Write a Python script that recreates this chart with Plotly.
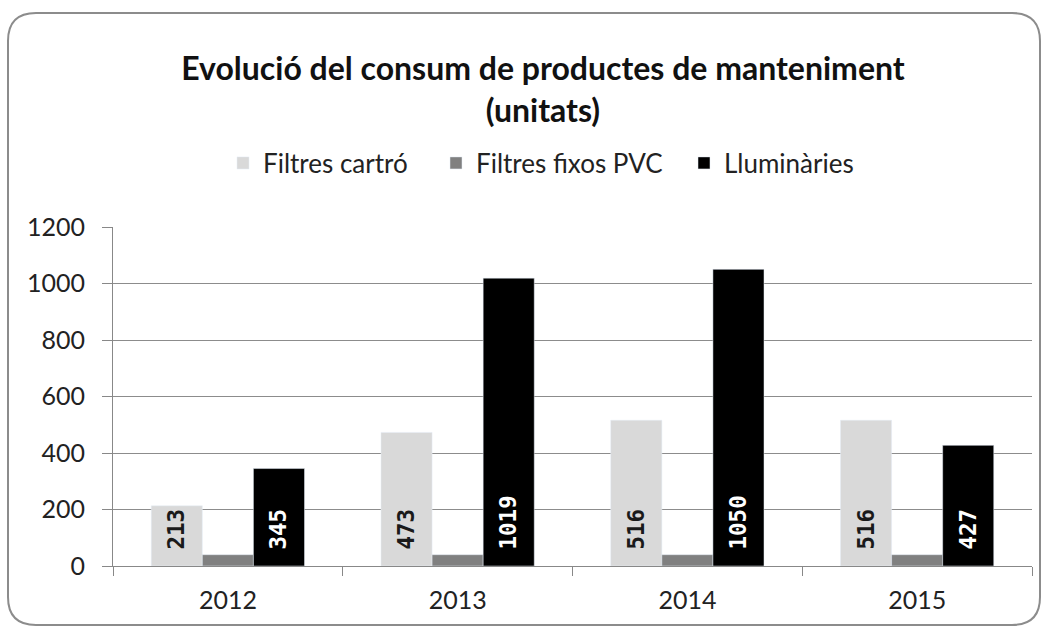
import plotly.graph_objects as go

years = ["2012", "2013", "2014", "2015"]
filtres_cartro = [213, 473, 516, 516]
filtres_pvc = [40, 40, 40, 40]
lluminaries = [345, 1019, 1050, 427]
y_ticks = [0, 200, 400, 600, 800, 1000, 1200]

W, H = 1049, 633
L, R, T, B = 113, 17, 227, 67
pw, ph = W - L - R, H - T - B

def px(x):
    return (x - L) / pw

def py(y):
    return (H - B - y) / ph

FONT = "Lato, Open Sans, sans-serif"
MONO = "DejaVu Sans Mono, monospace"

fig = go.Figure()
fig.add_trace(go.Bar(
    name="Filtres cartró", x=years, y=filtres_cartro, marker_color="#d9d9d9",
    texttemplate="\u00a0%{y}", textposition="inside", insidetextanchor="start", textangle=-90,
    textfont=dict(family=MONO, size=24, color="#1a1a1a", weight="bold"),
    legend="legend", showlegend=True,
))
fig.add_trace(go.Bar(
    name="Filtres fixos PVC", x=years, y=filtres_pvc, marker_color="#808080",
    legend="legend2", showlegend=True,
))
fig.add_trace(go.Bar(
    name="Lluminàries", x=years, y=lluminaries, marker_color="#000000",
    texttemplate="\u00a0%{y}", textposition="inside", insidetextanchor="start", textangle=-90,
    textfont=dict(family=MONO, size=24, color="#ffffff", weight="bold"),
    legend="legend3", showlegend=True,
))

# rounded chart border
x0, x1, y0, y1, r = 8, 1040, 13, 625, 28
path = (
    f"M {px(x0+r)},{py(y0)} L {px(x1-r)},{py(y0)} Q {px(x1)},{py(y0)} {px(x1)},{py(y0+r)} "
    f"L {px(x1)},{py(y1-r)} Q {px(x1)},{py(y1)} {px(x1-r)},{py(y1)} "
    f"L {px(x0+r)},{py(y1)} Q {px(x0)},{py(y1)} {px(x0)},{py(y1-r)} "
    f"L {px(x0)},{py(y0+r)} Q {px(x0)},{py(y0)} {px(x0+r)},{py(y0)} Z"
)

def leg(xpix):
    return dict(
        orientation="h", x=px(xpix), xanchor="left", y=py(163), yanchor="middle",
        font=dict(family=FONT, size=26, color="#222222"),
        itemwidth=30, bgcolor="rgba(0,0,0,0)", visible=True,
    )

fig.update_layout(
    width=W, height=H,
    margin=dict(l=L, r=R, t=T, b=B),
    showlegend=True,
    barmode="group", bargap=0.333, bargroupgap=0,
    plot_bgcolor="white", paper_bgcolor="white",
    font=dict(family=FONT, size=25, color="#222222"),
    title=dict(
        text="<b>Evolució del consum de productes de manteniment<br>(unitats)</b>",
        x=543 / W, xanchor="center", xref="container",
        y=1 - 80 / H, yanchor="middle", yref="container",
        font=dict(family=FONT, size=32, color="#111111"),
    ),
    legend=leg(223),
    legend2=leg(436),
    legend3=leg(684),
    xaxis=dict(
        showline=True, linecolor="#888888", linewidth=1,
        ticks="outside", tickson="boundaries", ticklen=9, tickcolor="#888888",
        ticklabelstandoff=12,
        showgrid=False, tickfont=dict(size=25), fixedrange=True,
    ),
    yaxis=dict(
        range=[0, 1200], tickvals=y_ticks, showline=True, linecolor="#888888",
        ticks="outside", ticklen=10, tickcolor="#888888", ticklabelstandoff=12,
        showgrid=True, gridcolor="#8c8c8c", gridwidth=1,
        tickfont=dict(size=25), zeroline=False,
    ),
    shapes=[dict(type="path", xref="paper", yref="paper", path=path,
                 line=dict(color="#8c8c8c", width=2), fillcolor="rgba(0,0,0,0)", layer="below")],
    uniformtext=dict(mode="show", minsize=10),
)

fig.write_html("out.html", config={"displayModeBar": False},
               post_script="document.body.style.margin='0px';")
